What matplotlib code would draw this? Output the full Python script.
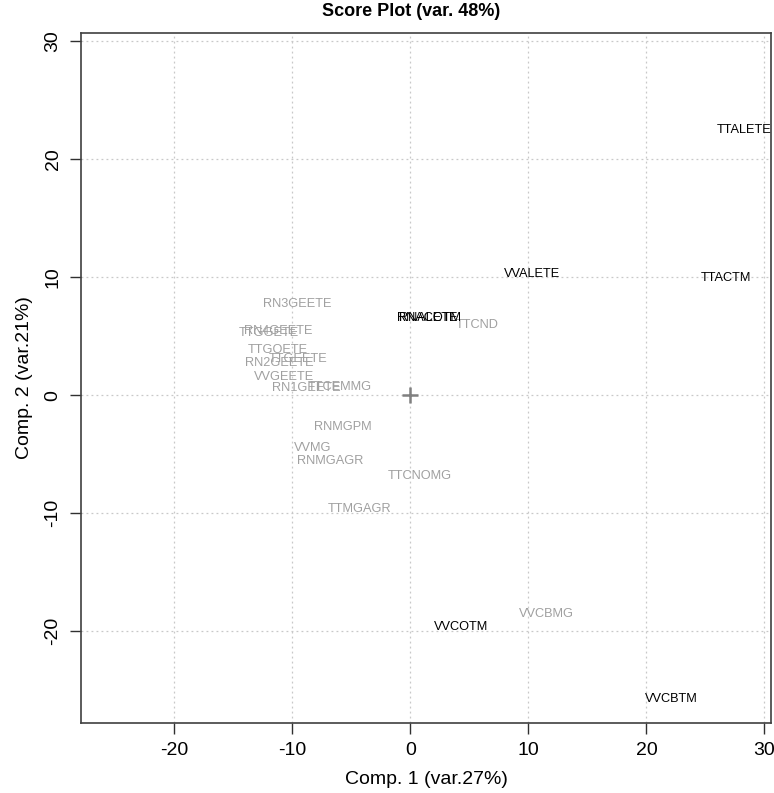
import matplotlib
matplotlib.use("Agg")
import matplotlib.pyplot as plt

plt.rcParams['font.family'] = ['Liberation Sans', 'DejaVu Sans']
plt.rcParams['axes.unicode_minus'] = False

title = "Score Plot (var. 48%)"
xlabel = "Comp. 1 (var.27%)"
ylabel = "Comp. 2 (var.21%)"
ticks = [-20, -10, 0, 10, 20, 30]

black_labels = ["TTALETE", "TTACTM", "VVALETE", "RNALETE", "RNACOTM", "VVCOTM", "VVCBTM"]
black_x = [28.3, 26.7, 10.3, 1.5, 1.6, 4.3, 22.1]
black_y = [22.5, 9.9, 10.3, 6.5, 6.5, -19.7, -25.8]

gray_labels = ["TTCND", "RN3GEETE", "RN4GEETE", "TTGGETE", "TTGOETE", "TTGEETE",
               "RN2GEETE", "VVGEETE", "RN1GEETE", "TTCEMMG", "RNMGPM", "VVMG",
               "RNMGAGR", "TTCNOMG", "TTMGAGR", "VVCBMG"]
gray_x = [5.7, -9.6, -11.2, -12.0, -11.2, -9.5, -11.1, -10.7, -8.8, -6.0, -5.7, -8.3,
          -6.8, 0.8, -4.3, 11.5]
gray_y = [5.9, 7.7, 5.4, 5.3, 3.8, 3.1, 2.7, 1.5, 0.6, 0.7, -2.7, -4.5,
          -5.6, -6.9, -9.7, -18.6]

fig = plt.figure(figsize=(7.74, 7.93), dpi=100)
ax = fig.add_axes([0.1047, 0.0883, 0.8914, 0.8701])
ax.set_xlim(-27.9, 30.55)
ax.set_ylim(-27.8, 30.7)

for v in ticks:
    ax.axvline(v, color='#c8c8c8', lw=0.9, ls=(0, (1.5, 2.5)), zorder=0)
    ax.axhline(v, color='#c8c8c8', lw=0.9, ls=(0, (1.5, 2.5)), zorder=0)

ax.plot([0], [0], marker='+', ms=11, mew=1.8, color='#808080', ls='none')

for t, x, y in zip(gray_labels, gray_x, gray_y):
    ax.text(x, y, t, color='#a0a0a0', fontsize=9.2, ha='center', va='center', clip_on=True)
for t, x, y in zip(black_labels, black_x, black_y):
    ax.text(x, y, t, color='black', fontsize=9.2, ha='center', va='center', clip_on=True)

ax.set_xticks(ticks)
ax.set_yticks(ticks)
ax.tick_params(direction='out', length=8, width=1, labelsize=14, colors='#303030',
               labelcolor='black', pad=6)
for lab in ax.get_yticklabels():
    lab.set_rotation(90)
    lab.set_va('center')
for s in ax.spines.values():
    s.set_color('#404040')
    s.set_linewidth(1.2)

ax.set_xlabel(xlabel, fontsize=14, labelpad=8)
ax.set_ylabel(ylabel, fontsize=14, labelpad=8)
fig.text(0.531, 0.985, title, fontsize=13, fontweight='bold', ha='center', va='center')

fig.savefig("out.png", dpi=100)
